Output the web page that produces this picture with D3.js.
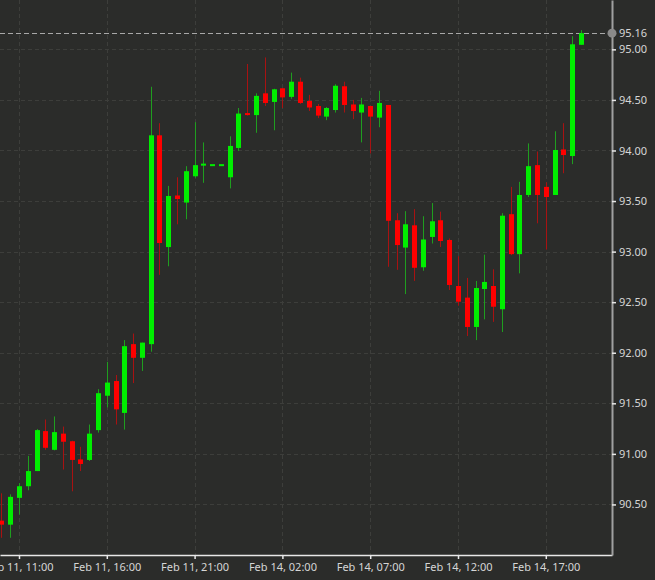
<!DOCTYPE html>
<html>
<head>
<meta charset="utf-8">
<script src="https://cdn.jsdelivr.net/npm/d3@7"></script>
<style>
  html, body { margin: 0; padding: 0; background: #2b2c2a; }
  svg { display: block; }
  text { font-family: "Noto Sans", "Open Sans", sans-serif; }
</style>
</head>
<body>
<div id="chart"></div>
<script>
// ---------- data (30-minute candles) ----------
const categories = [
  "Feb 11 10:00","Feb 11 10:30","Feb 11 11:00","Feb 11 11:30","Feb 11 12:00","Feb 11 12:30","Feb 11 13:00","Feb 11 13:30",
  "Feb 11 14:00","Feb 11 14:30","Feb 11 15:00","Feb 11 15:30","Feb 11 16:00","Feb 11 16:30","Feb 11 17:00","Feb 11 17:30",
  "Feb 11 18:00","Feb 11 18:30","Feb 11 19:00","Feb 11 19:30","Feb 11 20:00","Feb 11 20:30","Feb 11 21:00","Feb 11 21:30",
  "Feb 11 22:00","Feb 11 22:30","Feb 13 23:00","Feb 13 23:30","Feb 14 00:00","Feb 14 00:30","Feb 14 01:00","Feb 14 01:30",
  "Feb 14 02:00","Feb 14 02:30","Feb 14 03:00","Feb 14 03:30","Feb 14 04:00","Feb 14 04:30","Feb 14 05:00","Feb 14 05:30",
  "Feb 14 06:00","Feb 14 06:30","Feb 14 07:00","Feb 14 07:30","Feb 14 08:00","Feb 14 08:30","Feb 14 09:00","Feb 14 09:30",
  "Feb 14 10:00","Feb 14 10:30","Feb 14 11:00","Feb 14 11:30","Feb 14 12:00","Feb 14 12:30","Feb 14 13:00","Feb 14 13:30",
  "Feb 14 14:00","Feb 14 14:30","Feb 14 15:00","Feb 14 15:30","Feb 14 16:00","Feb 14 16:30","Feb 14 17:00","Feb 14 17:30",
  "Feb 14 18:00","Feb 14 18:30","Feb 14 19:00"
];
const open = [
  90.34, 90.30, 90.565, 90.68, 90.83, 91.225, 91.04, 91.20, 91.125, 90.945,
  90.94, 91.235, 91.575, 91.72, 91.405, 92.085, 91.95, 92.085, 94.15, 93.045,
  93.555, 93.485, 93.745, 93.85, 93.855, 93.855, 93.735, 94.025, 94.36, 94.35,
  94.565, 94.48, 94.615, 94.53, 94.68, 94.49, 94.44, 94.335, 94.40, 94.635,
  94.455, 94.375, 94.44, 94.325, 94.45, 93.31, 93.04, 93.26, 92.845, 93.145,
  93.31, 93.115, 92.66, 92.545, 92.255, 92.63, 92.66, 92.43, 93.37, 92.975,
  93.56, 93.855, 93.64, 93.56, 94.01, 93.945, 95.045
];
const high = [
  90.61, 90.60, 90.71, 90.98, 91.245, 91.34, 91.37, 91.27, 91.13, 91.07,
  91.29, 91.64, 91.91, 91.78, 92.125, 92.19, 92.10, 94.63, 94.27, 93.65,
  93.735, 93.845, 94.28, 94.08, 93.855, 93.855, 94.14, 94.42, 94.855, 94.565,
  94.92, 94.61, 94.615, 94.77, 94.72, 94.55, 94.46, 94.43, 94.655, 94.68,
  94.50, 94.52, 94.44, 94.59, 94.45, 93.38, 93.40, 93.42, 93.35, 93.48,
  93.395, 93.13, 92.955, 92.74, 92.71, 92.97, 92.825, 93.38, 93.64, 93.69,
  94.07, 93.99, 93.685, 94.19, 94.27, 95.13, 95.19
];
const low = [
  90.17, 90.17, 90.40, 90.64, 90.83, 91.04, 91.035, 90.845, 90.63, 90.83,
  90.93, 91.21, 91.46, 91.29, 91.24, 91.70, 91.82, 92.01, 92.77, 92.855,
  93.27, 93.32, 93.73, 93.68, 93.855, 93.855, 93.625, 93.995, 94.345, 94.175,
  94.44, 94.20, 94.42, 94.51, 94.46, 94.39, 94.32, 94.30, 94.375, 94.375,
  94.31, 94.08, 93.97, 94.23, 92.85, 92.82, 92.58, 92.71, 92.81, 93.08,
  93.045, 92.62, 92.465, 92.165, 92.125, 92.33, 92.305, 92.205, 92.965, 92.785,
  93.54, 93.28, 93.02, 93.56, 93.775, 93.865, 95.045
];
const close = [
  90.30, 90.575, 90.68, 90.83, 91.235, 91.06, 91.215, 91.12, 90.94, 90.90,
  91.20, 91.60, 91.705, 91.44, 92.065, 91.95, 92.10, 94.15, 93.085, 93.55,
  93.52, 93.795, 93.855, 93.86, 93.855, 93.855, 94.045, 94.365, 94.345, 94.54,
  94.47, 94.605, 94.525, 94.68, 94.47, 94.425, 94.345, 94.42, 94.64, 94.45,
  94.39, 94.455, 94.335, 94.47, 93.305, 93.065, 93.27, 92.84, 93.12, 93.30,
  93.105, 92.67, 92.505, 92.255, 92.64, 92.70, 92.455, 93.355, 92.975, 93.56,
  93.845, 93.56, 93.54, 94.005, 93.955, 95.05, 95.16
];
const tickIndex  = [2, 12, 22, 32, 42, 52, 62];
const tickLabels = ["Feb 11, 11:00","Feb 11, 16:00","Feb 11, 21:00","Feb 14, 02:00","Feb 14, 07:00","Feb 14, 12:00","Feb 14, 17:00"];
const yTickValues = [90.5, 91.0, 91.5, 92.0, 92.5, 93.0, 93.5, 94.0, 94.5, 95.0];
const lastPrice = 95.16;

// ---------- layout ----------
const W = 655, H = 580;
const plotW = 612, plotH = 555;

const svg = d3.select("#chart").append("svg")
  .attr("width", W).attr("height", H);

svg.append("rect").attr("width", W).attr("height", H).attr("fill", "#2b2c2a");

const x = d3.scaleLinear().domain([-0.164, 69.54]).range([0, plotW]);
const y = d3.scaleLinear().domain([90.0, 95.488]).range([plotH, 0]);

const gridColor = "#3d3e3b";

// horizontal grid
svg.append("g").selectAll("line").data(yTickValues).join("line")
  .attr("x1", 0).attr("x2", plotW)
  .attr("y1", d => Math.round(y(d)) + 0.5).attr("y2", d => Math.round(y(d)) + 0.5)
  .attr("stroke", gridColor).attr("stroke-width", 1).attr("stroke-dasharray", "4,3");

// vertical grid
svg.append("g").selectAll("line").data(tickIndex).join("line")
  .attr("x1", d => Math.round(x(d)) + 0.5).attr("x2", d => Math.round(x(d)) + 0.5)
  .attr("y1", 0).attr("y2", plotH)
  .attr("stroke", gridColor).attr("stroke-width", 1).attr("stroke-dasharray", "4,3");

// last price dashed line
svg.append("line")
  .attr("x1", 0).attr("x2", plotW)
  .attr("y1", Math.round(y(lastPrice)) + 0.5).attr("y2", Math.round(y(lastPrice)) + 0.5)
  .attr("stroke", "#a8a8a8").attr("stroke-width", 1).attr("stroke-dasharray", "5,3");

// candles
const idx = d3.range(categories.length);
const up = i => close[i] >= open[i];
const bodyW = 5;
const candles = svg.append("g").selectAll("g").data(idx).join("g");

candles.append("line")
  .attr("x1", i => Math.round(x(i)) + 0.5).attr("x2", i => Math.round(x(i)) + 0.5)
  .attr("y1", i => y(high[i])).attr("y2", i => y(low[i]))
  .attr("stroke", i => up(i) ? "#1f9e1f" : "#a81212")
  .attr("stroke-width", 1);

candles.append("rect")
  .attr("x", i => Math.round(x(i)) - 2)
  .attr("width", bodyW)
  .attr("y", i => Math.min(y(open[i]), y(close[i])) - (Math.abs(y(open[i]) - y(close[i])) < 2 ? 1 : 0))
  .attr("height", i => Math.max(2, Math.abs(y(open[i]) - y(close[i]))))
  .attr("fill", i => up(i) ? "#00ee00" : "#ff0000");

// bottom axis
const xAxis = d3.axisBottom(x)
  .tickValues(tickIndex)
  .tickFormat((d, i) => tickLabels[i])
  .tickSize(4).tickSizeOuter(0).tickPadding(4);
const gx = svg.append("g").attr("transform", `translate(0,${plotH})`).call(xAxis);
gx.select(".domain").attr("stroke", "#e8e8e8").attr("stroke-width", 1.5);
gx.selectAll(".tick line").attr("stroke", "#e8e8e8").attr("stroke-width", 1.5);
gx.selectAll(".tick text").attr("fill", "#d6d6d6").attr("font-size", 11)
  .attr("font-family", "'Noto Sans', sans-serif");

// right axis
const yAxis = d3.axisRight(y)
  .tickValues(yTickValues)
  .tickFormat(d3.format(".2f"))
  .tickSize(4).tickSizeOuter(0).tickPadding(3);
const gy = svg.append("g").attr("transform", `translate(${plotW},0)`).call(yAxis);
gy.select(".domain").attr("stroke", "#a0a0a0").attr("stroke-width", 2);
gy.selectAll(".tick line").attr("stroke", "#e8e8e8").attr("stroke-width", 1.5);
gy.selectAll(".tick text").attr("fill", "#d6d6d6").attr("font-size", 11)
  .attr("font-family", "'Noto Sans', sans-serif");

// last price marker and label
svg.append("circle")
  .attr("cx", plotW).attr("cy", y(lastPrice)).attr("r", 4.5)
  .attr("fill", "#8a8a8a");
svg.append("text")
  .attr("x", plotW + 7).attr("y", y(lastPrice))
  .attr("dy", "0.32em")
  .attr("fill", "#d6d6d6").attr("font-size", 11)
  .text(d3.format(".2f")(lastPrice));
</script>
</body>
</html>
